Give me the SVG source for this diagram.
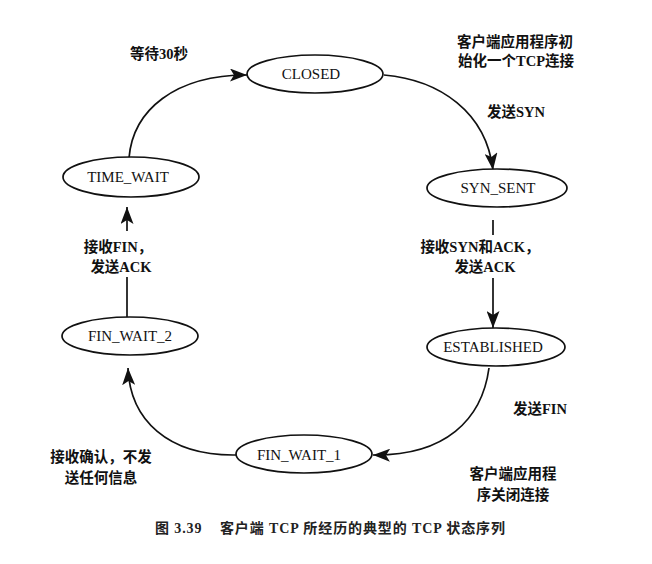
<svg xmlns="http://www.w3.org/2000/svg" width="652" height="564" viewBox="0 0 652 564">
  <style>
    .state ellipse { fill: #fff; stroke: #111; stroke-width: 1.7; }
    .state text { font-family: "Liberation Serif", "Noto Sans CJK SC", serif; font-size: 15px; fill: #111; text-anchor: middle; }
    .edge { fill: none; stroke: #111; stroke-width: 1.7; }
    .lbl { font-family: "Liberation Serif", "Noto Sans CJK SC", serif; font-size: 14.5px; font-weight: bold; fill: #111; text-anchor: middle; }
    .cap { font-family: "Liberation Serif", "Noto Sans CJK SC", serif; font-size: 14px; font-weight: bold; fill: #222; }
  </style>
  <defs>
    <marker id="arrow" markerUnits="userSpaceOnUse" markerWidth="18" markerHeight="13" viewBox="0 0 18 13" refX="17" refY="6.5" orient="auto">
      <path d="M0,0 L17,6.5 L0,13 L4,6.5 Z" fill="#111"/>
    </marker>
  </defs>

  <rect width="652" height="564" fill="#fff"/>

  <!-- transitions -->
  <g id="connectors">
    <path class="edge" d="M129,158 C133,110 175,75 247,75" marker-end="url(#arrow)"/>
    <path class="edge" d="M384,75 C440,80 486,112 493,170" marker-end="url(#arrow)"/>
    <path class="edge" d="M493,220 L493,235"/>
    <path class="edge" d="M493,278 L493,328" marker-end="url(#arrow)"/>
    <path class="edge" d="M489,368 C482,420 445,456 373,455" marker-end="url(#arrow)"/>
    <path class="edge" d="M236,455 C168,456 130,420 128,368" marker-end="url(#arrow)"/>
    <path class="edge" d="M127,318 L127,277"/>
    <path class="edge" d="M127,231 L127,207" marker-end="url(#arrow)"/>
  </g>

  <!-- states -->
  <g id="closed" class="state">
    <ellipse cx="315" cy="74" rx="68" ry="19"/>
    <text x="311" y="79">CLOSED</text>
  </g>
  <g id="syn-sent" class="state">
    <ellipse cx="497" cy="188" rx="70" ry="19"/>
    <text x="498" y="193">SYN_SENT</text>
  </g>
  <g id="established" class="state">
    <ellipse cx="496" cy="347" rx="69" ry="19"/>
    <text x="493" y="352">ESTABLISHED</text>
  </g>
  <g id="fin-wait-1" class="state">
    <ellipse cx="304" cy="454" rx="68" ry="19"/>
    <text x="299" y="460">FIN_WAIT_1</text>
  </g>
  <g id="fin-wait-2" class="state">
    <ellipse cx="130" cy="336" rx="68" ry="19"/>
    <text x="130" y="341">FIN_WAIT_2</text>
  </g>
  <g id="time-wait" class="state">
    <ellipse cx="131" cy="177" rx="68" ry="20"/>
    <text x="128" y="182">TIME_WAIT</text>
  </g>

  <!-- transition labels -->
  <g id="labels">
    <text class="lbl" x="159" y="59">等待30秒</text>
    <text class="lbl" x="515" y="47">客户端应用程序初</text>
    <text class="lbl" x="516" y="66">始化一个TCP连接</text>
    <text class="lbl" x="516" y="117">发送SYN</text>
    <text class="lbl" x="480" y="252">接收SYN和ACK，</text>
    <text class="lbl" x="485" y="272">发送ACK</text>
    <text class="lbl" x="540" y="414">发送FIN</text>
    <text class="lbl" x="513" y="479">客户端应用程</text>
    <text class="lbl" x="513" y="500">序关闭连接</text>
    <text class="lbl" x="101" y="462">接收确认，不发</text>
    <text class="lbl" x="101" y="483">送任何信息</text>
    <text class="lbl" x="118" y="252">接收FIN，</text>
    <text class="lbl" x="121" y="272">发送ACK</text>
  </g>

  <text class="cap" x="155" y="533" xml:space="preserve" textLength="350" lengthAdjust="spacing">图 3.39    客户端 TCP 所经历的典型的 TCP 状态序列</text>
</svg>
